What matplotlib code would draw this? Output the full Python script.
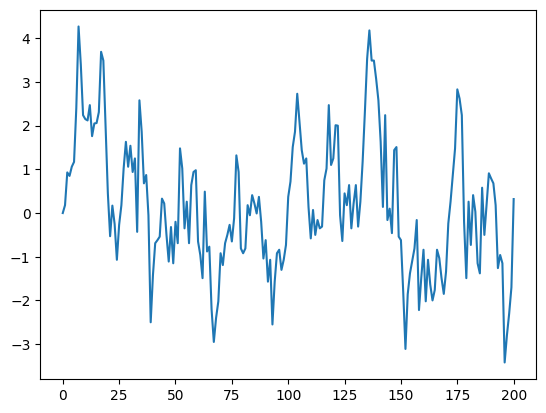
import numpy as np
import matplotlib
matplotlib.use("Agg")
import matplotlib.pyplot as plt

# valeurs (une par pas, de 0 a 200)
valeurs_0_49 = [
    0.0, 0.18, 0.93, 0.85, 1.06, 1.17, 2.4, 4.27, 3.4, 2.24,
    2.15, 2.12, 2.47, 1.76, 2.05, 2.06, 2.31, 3.69, 3.49, 2.0,
    0.45, -0.53, 0.17, -0.25, -1.07, -0.27, 0.18, 1.02, 1.63, 1.06,
    1.54, 0.94, 1.25, -0.43, 2.58, 1.86, 0.68, 0.87, -0.05, -2.5,
    -1.42, -0.69, -0.62, -0.54, 0.33, 0.22, -0.5, -1.11, -0.32, -1.15,
]
valeurs_50_99 = [
    -0.2, -0.69, 1.48, 1.02, -0.35, 0.26, -0.69, 0.64, 0.94, 0.98,
    -0.65, -0.96, -1.49, 0.49, -0.88, -0.77, -2.2, -2.95, -2.4, -2.02,
    -0.92, -1.19, -0.69, -0.5, -0.27, -0.65, -0.12, 1.32, 0.94, -0.81,
    -0.92, -0.81, 0.18, -0.05, 0.41, 0.22, -0.01, 0.37, -0.2, -1.04,
    -0.62, -1.57, -1.07, -2.55, -1.57, -0.92, -0.84, -1.3, -1.07, -0.73,
]
valeurs_100_149 = [
    0.37, 0.72, 1.51, 1.86, 2.73, 2.09, 1.44, 1.13, 1.25, 0.14,
    -0.58, 0.07, -0.5, -0.16, -0.35, -0.31, 0.75, 1.02, 2.47, 1.1,
    1.25, 2.01, 2.0, -0.05, -0.64, 0.45, 0.18, 0.64, -0.35, 0.22,
    0.64, -0.31, 0.26, 1.17, 2.31, 3.53, 4.18, 3.49, 3.49, 3.07,
    2.58, 1.63, 0.14, 2.24, -0.16, 0.1, -0.46, 1.44, 1.51, -0.54,
]
valeurs_150_200 = [
    -0.62, -1.8, -3.11, -1.86, -1.38, -1.1, -0.81, -0.16, -2.22, -1.49,
    -0.84, -2.02, -1.07, -1.64, -2.0, -1.76, -0.84, -1.03, -1.49, -1.85,
    -1.34, -0.24, 0.26, 0.87, 1.48, 2.83, 2.62, 2.24, -0.2, -1.49,
    0.26, -0.73, 0.41, 0.03, -1.15, -1.38, 0.58, -0.5, 0.2, 0.91,
    0.79, 0.68, 0.18, -1.26, -0.96, -1.15, -3.42, -2.8, -2.3, -1.7,
    0.32,
]

serie = valeurs_0_49 + valeurs_50_99 + valeurs_100_149 + valeurs_150_200
pas = np.arange(len(serie))

fig, ax = plt.subplots(figsize=(6.4, 4.8), dpi=100)
ax.plot(pas, serie)

fig.savefig("out.png", dpi=100, bbox_inches="tight")
